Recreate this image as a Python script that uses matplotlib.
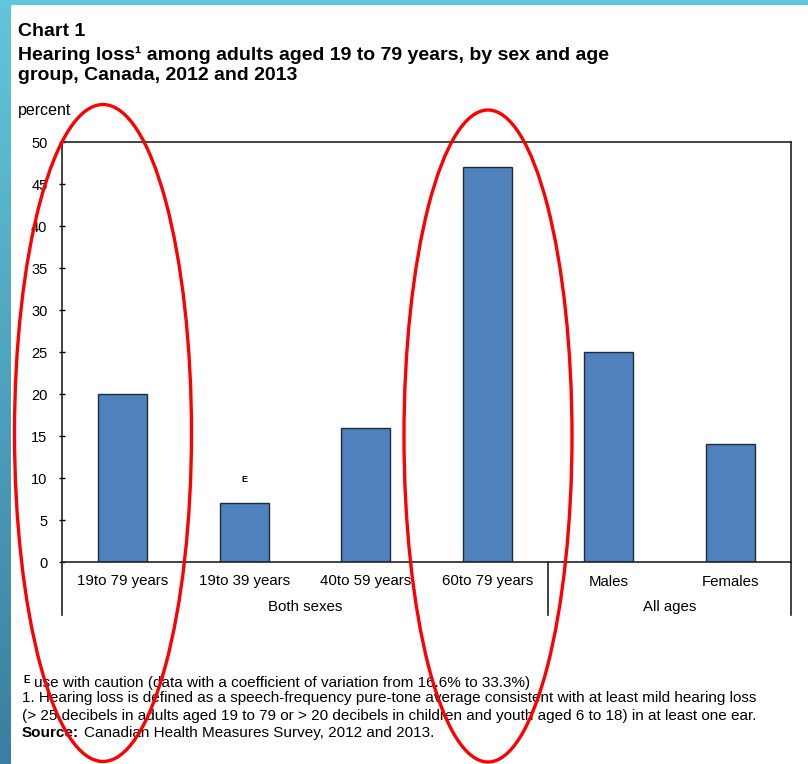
import matplotlib
matplotlib.use("Agg")
import matplotlib.pyplot as plt
import numpy as np
from matplotlib.patches import Ellipse, Rectangle

plt.rcParams['font.family'] = ['Liberation Sans', 'DejaVu Sans']

# data
categories = ['19to 79 years', '19to 39 years', '40to 59 years', '60to 79 years', 'Males', 'Females']
values = [20, 7, 16, 47, 25, 14]
flags = ['', 'E', '', '', '', '']
groups = ['Both sexes', 'All ages']
group_sizes = [4, 2]
yticks = [0, 5, 10, 15, 20, 25, 30, 35, 40, 45, 50]

W, H = 808, 764
fig = plt.figure(figsize=(W / 100, H / 100), dpi=100)
fig.patch.set_facecolor('white')

def fx(px):
    return px / W

def fy(py):
    return 1 - py / H

# teal frame: top strip and left gradient strip
top = Rectangle((0, fy(5)), 1, 5 / H, transform=fig.transFigure,
                facecolor='#62c6dc', edgecolor='none', zorder=0)
fig.patches.append(top)
grad = np.linspace(0, 1, 256).reshape(-1, 1)
bg = fig.add_axes([0, 0, fx(11), fy(0)])
bg.imshow(grad, aspect='auto', cmap=matplotlib.colors.LinearSegmentedColormap.from_list(
    'tl', ['#62c6dc', '#3a7ea0']), extent=[0, 1, 1, 0])
bg.axis('off')

ax = fig.add_axes([fx(62), fy(562), fx(791) - fx(62), fy(142) - fy(562)])
x = np.arange(len(categories))
ax.bar(x, values, width=0.4, color='#4f81bd', edgecolor='#1f2a3a', linewidth=1.0, zorder=2)
for xi, v, f in zip(x, values, flags):
    if f:
        ax.text(xi, v + 2.3, f, ha='center', va='bottom', fontsize=6.5, fontweight='bold')

ax.set_xlim(-0.5, len(categories) - 0.5)
ax.set_ylim(0, 50)
ax.set_yticks(yticks)
ax.tick_params(axis='y', direction='inout', length=5, width=1, labelsize=10.5, pad=8)
ax.set_xticks(x)
ax.set_xticklabels(categories, fontsize=10.8)
ax.tick_params(axis='x', length=0, pad=9)
for s in ax.spines.values():
    s.set_color('#222222')
    s.set_linewidth(1.2)

# group labels and separators below the category axis
start = -0.5
bounds = [start]
for g, n in zip(groups, group_sizes):
    ax.text(start + n / 2, -5.3, g, ha='center', va='center', fontsize=10.8,
            transform=ax.transData, clip_on=False)
    start += n
    bounds.append(start)
for b in bounds:
    ax.plot([b, b], [0, -6.3], color='#222222', lw=1.2, clip_on=False)

# titles
fig.text(fx(18), fy(31), 'Chart 1', fontsize=14, fontweight='bold', va='center')
fig.text(fx(18), fy(55), 'Hearing loss\u00b9 among adults aged 19 to 79 years, by sex and age',
         fontsize=14, fontweight='bold', va='center')
fig.text(fx(18), fy(76), 'group, Canada, 2012 and 2013', fontsize=14, fontweight='bold', va='center')
fig.text(fx(18), fy(110), 'percent', fontsize=11.5, va='center')

# footnotes
fig.text(fx(23), fy(680), 'E', fontsize=7, fontweight='bold', va='center')
fig.text(fx(34), fy(683), 'use with caution (data with a coefficient of variation from 16.6% to 33.3%)',
         fontsize=11, va='center')
fig.text(fx(22), fy(698), '1. Hearing loss is defined as a speech-frequency pure-tone average consistent with at least mild hearing loss',
         fontsize=11, va='center')
fig.text(fx(22), fy(716), '(> 25 decibels in adults aged 19 to 79 or > 20 decibels in children and youth aged 6 to 18) in at least one ear.',
         fontsize=11, va='center')
fig.text(fx(22), fy(733), 'Source:', fontsize=11, fontweight='bold', va='center')
fig.text(fx(84), fy(733), 'Canadian Health Measures Survey, 2012 and 2013.', fontsize=11, va='center')

# red annotation ellipses
for cx, cy, ew, eh in [(103, 433, 177, 657), (488, 436, 168, 652)]:
    e = Ellipse((fx(cx), fy(cy)), ew / W, eh / H, transform=fig.transFigure,
                fill=False, edgecolor='#ff0000', linewidth=2.4, zorder=10)
    fig.patches.append(e)

fig.savefig('out.png', dpi=100)
